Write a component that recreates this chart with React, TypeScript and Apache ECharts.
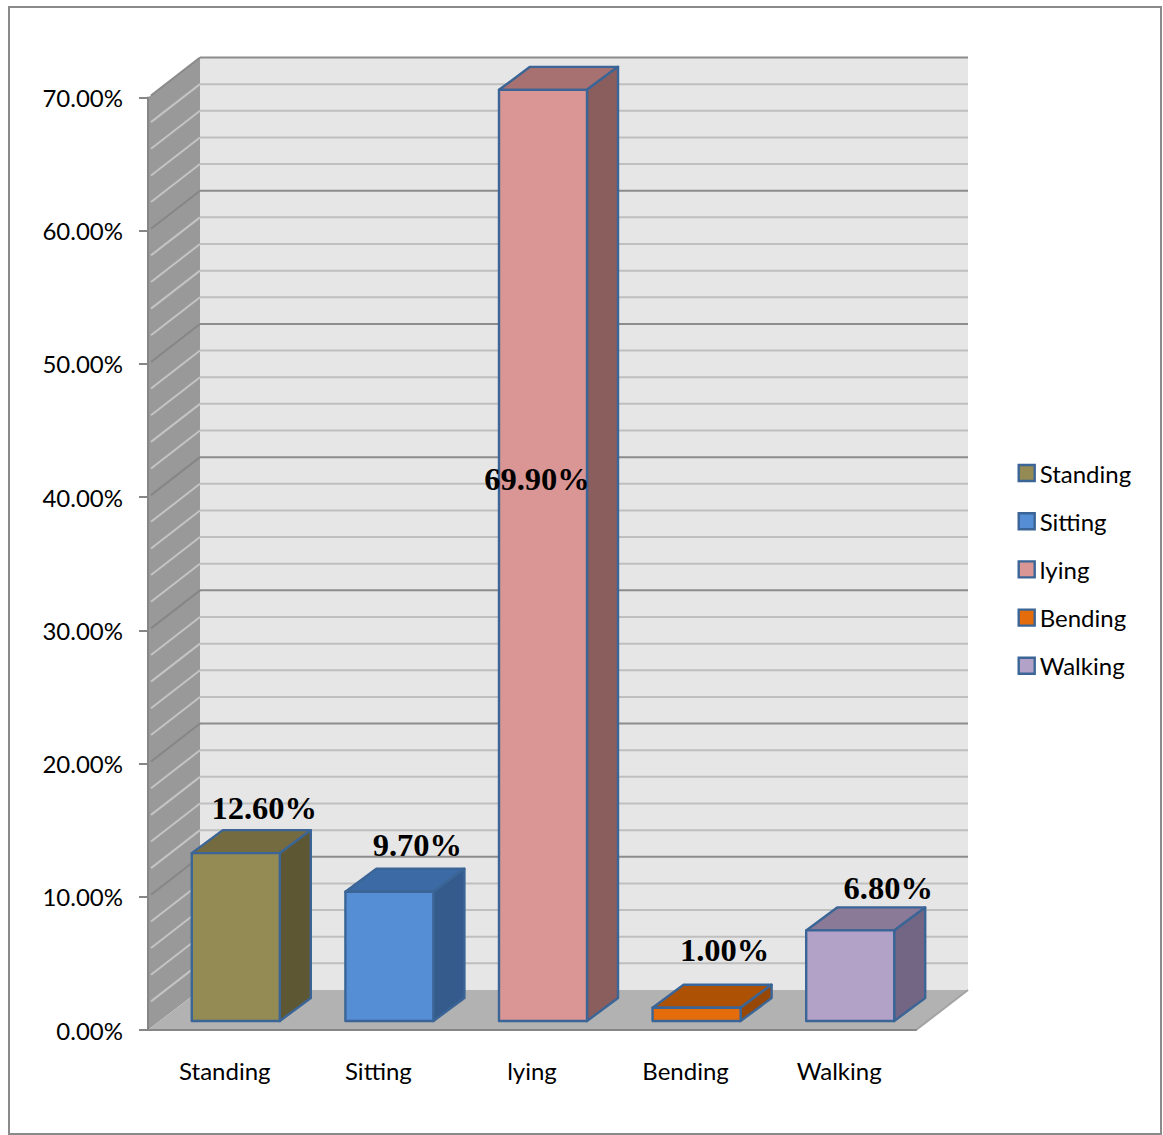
import React, { useEffect, useRef } from "react";
import * as echarts from "echarts";

// Share of time per posture, in percent
const categories = ["Standing", "Sitting", "lying", "Bending", "Walking"];
const shares = [12.6, 9.7, 69.9, 1.0, 6.8];
const gridLevels = [
  2, 4, 6, 8, 10, 12, 14, 16, 18, 20, 22, 24, 26, 28, 30, 32, 34, 36, 38, 40, 42, 44, 46, 48, 50, 52,
  54, 56, 58, 60, 62, 64, 66, 68, 70,
];

const frontColors = ["#948a54", "#558ed5", "#d99694", "#e46c0a", "#b3a2c7"];
const topColors = ["#746b41", "#3c6aa4", "#a67170", "#ad5205", "#8a7a98"];
const sideColors = ["#5e5734", "#355b8c", "#8b5e5e", "#974706", "#736584"];
const edgeColor = "#3b6596";

// Label placement relative to the top-centre of each bar's front face
const labelNudges = [
  [28.5, -45],
  [28, -47],
  [-6, 389],
  [28, -58],
  [38, -42],
];

const FONT = "Lato, Carlito, sans-serif";
const WALL_DX = 52;
const WALL_DY = -40;
const BAR_DX = 11;
const BAR_DY = -9;
const DEPTH_DX = 31;
const DEPTH_DY = -23;
const BAR_RATIO = 0.573;

// Left and right ends of the category axis, in pixels
const plotEnds = (api: any) => {
  const band = api.size([1, 0])[0];
  const x0 = api.coord([0, 0])[0] - band / 2;
  return [x0, x0 + band * categories.length];
};

const renderWalls = (_: any, api: any) => {
  const [x0, x1] = plotEnds(api);
  const y0 = api.coord([0, 0])[1];
  const yTop = api.coord([0, 70])[1];
  return {
    type: "group",
    children: [
      {
        type: "polygon",
        shape: { points: [[x0 + WALL_DX, yTop + WALL_DY], [x1 + WALL_DX, yTop + WALL_DY], [x1 + WALL_DX, y0 + WALL_DY], [x0 + WALL_DX, y0 + WALL_DY]] },
        style: { fill: "#e6e6e6" },
      },
      {
        type: "polygon",
        shape: { points: [[x0, yTop], [x0 + WALL_DX, yTop + WALL_DY], [x0 + WALL_DX, y0 + WALL_DY], [x0, y0]] },
        style: { fill: "#999999" },
      },
      {
        type: "polygon",
        shape: { points: [[x0, y0], [x1, y0], [x1 + WALL_DX, y0 + WALL_DY], [x0 + WALL_DX, y0 + WALL_DY]] },
        style: { fill: "#b2b2b2" },
      },
      {
        type: "polyline",
        shape: { points: [[x1, y0], [x1 + WALL_DX, y0 + WALL_DY]] },
        style: { stroke: "#a3a3a3", lineWidth: 2, fill: "none" },
      },
    ],
  };
};

const renderGridLine = (_: any, api: any) => {
  const level = api.value(1);
  const [x0, x1] = plotEnds(api);
  const y = api.coord([0, level])[1];
  const major = level % 10 === 0;
  return {
    type: "group",
    children: [
      {
        type: "line",
        shape: { x1: x0 + 3, y1: y - 2, x2: x0 + WALL_DX, y2: y + WALL_DY },
        style: { stroke: level === 70 ? "#8a8a8a" : major ? "#868686" : "#c4c4c4", lineWidth: 2 },
      },
      {
        type: "line",
        shape: { x1: x0 + WALL_DX, y1: y + WALL_DY, x2: x1 + WALL_DX, y2: y + WALL_DY },
        style: { stroke: major ? "#8c8c8c" : "#bfbfbf", lineWidth: 2 },
      },
    ],
  };
};

const makeBarRenderer = (index: number) => (_: any, api: any) => {
  const cat = api.value(0);
  const value = api.value(1);
  const width = api.size([1, 0])[0] * BAR_RATIO;
  const [cx, yValue] = api.coord([cat, value]);
  const [, yZero] = api.coord([cat, 0]);
  const left = cx + BAR_DX - width / 2;
  const right = left + width;
  const top = yValue + BAR_DY;
  const bottom = yZero + BAR_DY;
  const edge = { stroke: edgeColor, lineWidth: 2.4, lineJoin: "round" };
  return {
    type: "group",
    children: [
      {
        type: "polygon",
        shape: { points: [[left, top], [right, top], [right + DEPTH_DX, top + DEPTH_DY], [left + DEPTH_DX, top + DEPTH_DY]] },
        style: { fill: topColors[index], ...edge },
      },
      {
        type: "polygon",
        shape: { points: [[right, top], [right + DEPTH_DX, top + DEPTH_DY], [right + DEPTH_DX, bottom + DEPTH_DY], [right, bottom]] },
        style: { fill: sideColors[index], ...edge },
      },
      {
        type: "polygon",
        shape: { points: [[left, top], [right, top], [right, bottom], [left, bottom]] },
        style: { fill: frontColors[index], ...edge },
      },
      {
        type: "text",
        z2: 100,
        style: {
          text: `${value.toFixed(2)}%`,
          x: (left + right) / 2 + labelNudges[index][0],
          y: top + labelNudges[index][1],
          font: 'bold 32.5px "Liberation Serif"',
          fill: "#000000",
          textAlign: "center",
          textVerticalAlign: "middle",
        },
      },
    ],
  };
};

export default function App() {
  const ref = useRef<HTMLDivElement>(null);

  useEffect(() => {
    document.body.style.margin = "0";
    const chart = echarts.init(ref.current!, null, { renderer: "svg" });
    chart.setOption({
      animation: false,
      backgroundColor: "#ffffff",
      graphic: [
        {
          type: "rect",
          silent: true,
          z: -1,
          shape: { x: 9, y: 7, width: 1152, height: 1127 },
          style: { fill: "none", stroke: "#8a8a8a", lineWidth: 2 },
        },
      ],
      grid: { left: 148, top: 97.5, width: 768, height: 932.5 },
      xAxis: {
        type: "category",
        data: categories,
        z: 5,
        axisLine: { show: true, lineStyle: { color: "#868686", width: 2 } },
        axisTick: { show: false },
        axisLabel: { color: "#000000", fontFamily: FONT, fontSize: 24, margin: 28 },
      },
      yAxis: {
        type: "value",
        min: 0,
        max: 70,
        interval: 10,
        z: 5,
        splitLine: { show: false },
        axisLine: { show: true, lineStyle: { color: "#868686", width: 2 } },
        axisTick: { show: true, length: 9, lineStyle: { color: "#868686", width: 2 } },
        axisLabel: {
          color: "#000000",
          fontFamily: FONT,
          fontSize: 24,
          margin: 25,
          formatter: (v: number) => `${v.toFixed(2)}%`,
        },
      },
      legend: {
        orient: "vertical",
        left: 1017.5,
        top: 461,
        padding: 0,
        itemWidth: 16,
        itemHeight: 16,
        itemGap: 24.2,
        textStyle: { color: "#000000", fontFamily: FONT, fontSize: 24 },
        data: categories.map((name, i) => ({
          name,
          icon: "rect",
          itemStyle: { color: frontColors[i], borderColor: edgeColor, borderWidth: 2.4 },
        })),
      },
      series: [
        {
          type: "custom",
          name: "walls",
          silent: true,
          z: 1,
          renderItem: renderWalls,
          data: [[0, 0]],
        },
        {
          type: "custom",
          name: "levels",
          silent: true,
          z: 2,
          renderItem: renderGridLine,
          data: gridLevels.map((level) => [0, level]),
        },
        ...categories.map((name, i) => ({
          type: "custom",
          name,
          z: 3,
          renderItem: makeBarRenderer(i),
          encode: { x: 0, y: 1 },
          data: [[i, shares[i]]],
        })),
      ],
    });
    return () => chart.dispose();
  }, []);

  return <div ref={ref} style={{ width: 1163, height: 1135 }} />;
}
